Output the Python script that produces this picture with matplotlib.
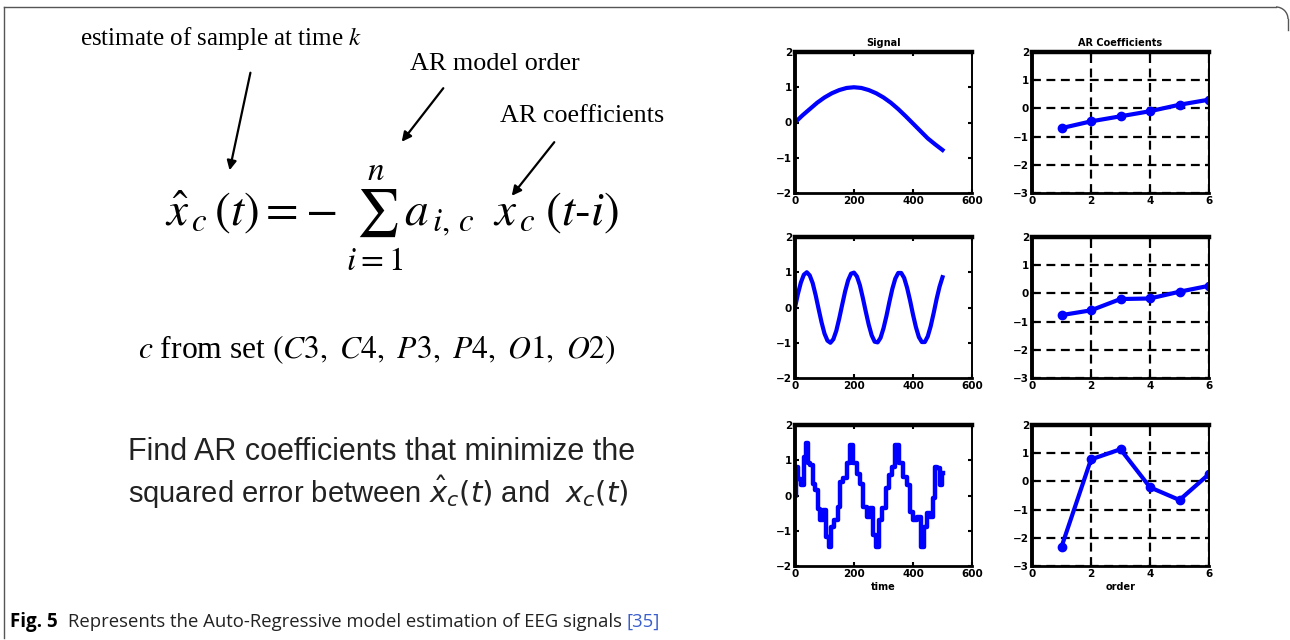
import numpy as np
import matplotlib
matplotlib.use("Agg")
import matplotlib.pyplot as plt
from matplotlib.patches import Arc

# signal 1: slow sine
t1 = [0, 25, 50, 75, 100, 125, 150, 175, 200, 225, 250, 275, 300, 325, 350,
      375, 400, 425, 450, 475, 500]
y1 = [0.0, 0.2, 0.38, 0.56, 0.71, 0.83, 0.92, 0.98, 1.0, 0.98, 0.92, 0.83,
      0.71, 0.56, 0.38, 0.18, -0.03, -0.24, -0.45, -0.62, -0.78]

# signal 2: faster sine
t2 = list(range(0, 501, 10))
y2 = [0.0, 0.39, 0.71, 0.93, 1.0, 0.91, 0.69, 0.35, -0.04, -0.42, -0.74,
      -0.94, -1.0, -0.9, -0.66, -0.31, 0.08, 0.46, 0.77, 0.96, 0.99, 0.88,
      0.63, 0.27, -0.12, -0.49, -0.79, -0.97, -0.99, -0.86, -0.59, -0.24,
      0.16, 0.53, 0.82, 0.98, 0.98, 0.84, 0.56, 0.2, -0.2, -0.56, -0.84,
      -0.98, -0.98, -0.82, -0.53, -0.16, 0.24, 0.59, 0.86]

# signal 3: noisy mixture
t3 = [0, 6, 17, 26, 34, 40, 45, 56, 64, 73, 82, 90, 102, 110, 119, 128, 139,
      150, 158, 170, 181, 192, 203, 215, 226, 237, 249, 260, 271, 279, 290,
      302, 313, 322, 333, 347, 358, 373, 384, 395, 407, 418, 433, 444, 452,
      463, 471, 478, 486, 494, 500]
y3 = [0.0, 0.82, 0.48, 0.3, 1.1, 1.48, 0.91, 0.87, 0.34, 0.16, -0.37, -0.7,
      -0.41, -1.17, -1.45, -0.88, -0.7, -0.32, 0.39, 0.49, 0.91, 1.43, 0.91,
      0.62, 0.34, -0.32, -0.6, -0.36, -1.12, -1.45, -0.7, -0.36, 0.2, 0.58,
      0.82, 1.43, 0.91, 0.53, 0.3, -0.46, -0.7, -0.6, -1.45, -0.88, -0.5,
      -0.6, -0.08, 0.82, 0.77, 0.3, 0.63]

order = [1, 2, 3, 4, 5, 6]
coef1 = [-0.70, -0.46, -0.28, -0.10, 0.13, 0.31]
coef2 = [-0.77, -0.60, -0.20, -0.18, 0.06, 0.27]
coef3 = [-2.32, 0.78, 1.14, -0.21, -0.66, 0.26]

signals = [(t1, y1), (t2, y2), (t3, y3)]
coefs = [coef1, coef2, coef3]

W, H = 1290, 640
fig = plt.figure(figsize=(12.9, 6.4), dpi=100)

# background layer in pixel units for the text panel
bg = fig.add_axes([0, 0, 1, 1])
bg.set_xlim(0, W)
bg.set_ylim(H, 0)
bg.axis("off")

# frame around the figure
bg.plot([4, 4], [638, 7], color="#555555", lw=1)
bg.plot([4, 1276], [7, 7], color="#555555", lw=1)
bg.add_patch(Arc((1276, 19), 24, 24, theta1=270, theta2=360, color="#555555", lw=1))
bg.plot([1288, 1288], [19, 30], color="#555555", lw=1)

serif = "Liberation Serif"
sans = "Liberation Sans"

bg.text(80, 38, r"estimate of sample at time $k$", fontsize=18, family=serif,
        math_fontfamily="stix", va="center", ha="left")
bg.text(410, 64, "AR model order", fontsize=18.8, family=serif, va="center")
bg.text(500, 116, "AR coefficients", fontsize=18.8, family=serif, va="center")

arr = dict(arrowstyle="-|>", color="black", lw=1.6, mutation_scale=14)
bg.annotate("", xy=(229, 173), xytext=(251, 70), arrowprops=arr)
bg.annotate("", xy=(400, 144), xytext=(445, 86), arrowprops=arr)
bg.annotate("", xy=(510, 198), xytext=(556, 140), arrowprops=arr)

bg.text(165, 218,
        r"$\hat{x}_{\,c}\,(t) = -\;\sum_{i=1}^{n} a_{\,i,\,c}\;\; x_{\,c}\;(t\text{-}i)$",
        fontsize=34, family=serif, math_fontfamily="stix", va="center", ha="left")

bg.text(138, 350, r"$c$ from set $(C3,\ C4,\ P3,\ P4,\ O1,\ O2)$", fontsize=22.8,
        family=serif, math_fontfamily="stix", va="center", ha="left")

bg.text(128, 452, "Find AR coefficients that minimize the", fontsize=22,
        family=sans, va="center", ha="left", color="#222222")
bg.text(128, 492, r"squared error between $\hat{x}_{c}(t)$ and  $x_{c}(t)$",
        fontsize=21, family=sans, math_fontfamily="dejavusans", va="center",
        ha="left", color="#222222")

bg.text(10, 622, "Fig. 5", fontsize=13.5, family="Open Sans",
        weight="bold", va="center", ha="left")
bg.text(68, 622, "Represents the Auto-Regressive model estimation of EEG signals",
        fontsize=13.3, family="Open Sans", va="center", ha="left", color="#222222")
bg.text(627, 622, "[35]", fontsize=13.3, family="Open Sans", va="center",
        ha="left", color="#3a5fcd")

# the six small MATLAB-style panels
lefts = [795 / W, 1032 / W]
tops = [52, 237, 425]
aw = 177 / W
ah = 141 / H


def style(ax):
    ax.tick_params(direction="in", length=3, width=1.5, top=True, right=True,
                   labelsize=7.5, pad=2)
    for lab in ax.get_xticklabels() + ax.get_yticklabels():
        lab.set_fontweight("bold")
    ax.spines["top"].set_linewidth(3.2)
    ax.spines["left"].set_linewidth(2.8)
    ax.spines["bottom"].set_linewidth(2.0)
    ax.spines["right"].set_linewidth(1.4)


for r in range(3):
    bottom = 1 - (tops[r] + 141) / H
    ax = fig.add_axes([lefts[0], bottom, aw, ah])
    t, y = signals[r]
    if r == 2:
        ax.plot(t, y, color="#0000ff", lw=3.2, drawstyle="steps-mid")
    else:
        ax.plot(t, y, color="#0000ff", lw=3.0)
    ax.set_xlim(0, 600)
    ax.set_ylim(-2, 2)
    ax.set_xticks([0, 200, 400, 600])
    ax.set_yticks([-2, -1, 0, 1, 2])
    style(ax)
    if r == 0:
        ax.set_title("Signal", fontsize=7, weight="bold", pad=4)
    if r == 2:
        ax.set_xlabel("time", fontsize=7, weight="bold", labelpad=2)

    ax = fig.add_axes([lefts[1], bottom, aw, ah])
    ax.plot(order, coefs[r], color="#0000ff", lw=3, marker="o", ms=6)
    ax.set_xlim(0, 6)
    ax.set_ylim(-3, 2)
    ax.set_xticks([0, 2, 4, 6])
    ax.set_yticks([-3, -2, -1, 0, 1, 2])
    ax.grid(True, color="black", ls=(0, (4, 2.5)), lw=1.6)
    style(ax)
    if r == 0:
        ax.set_title("AR Coefficients", fontsize=7, weight="bold", pad=4)
    if r == 2:
        ax.set_xlabel("order", fontsize=7, weight="bold", labelpad=2)

fig.savefig("out.png", dpi=100)
